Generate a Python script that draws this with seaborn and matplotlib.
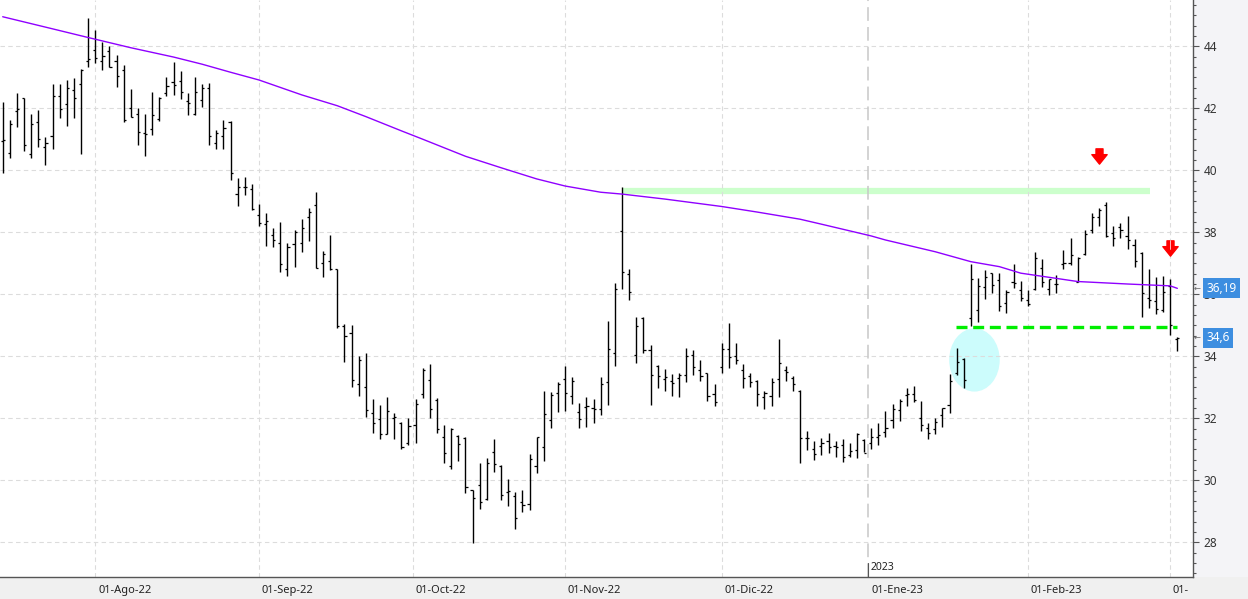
import numpy as np
import pandas as pd
import seaborn as sns
import matplotlib.pyplot as plt
from matplotlib import transforms
from matplotlib.patches import Ellipse, Rectangle
from matplotlib.path import Path
from matplotlib.transforms import Bbox, TransformedBbox

# Daily bars 13-Jul-2022 .. 02-Mar-2023 (market closed 26-Dec)
dates = pd.bdate_range('2022-07-13', '2023-03-02')
dates = dates[dates != pd.Timestamp('2022-12-26')]

opens = [40.93, 40.55, 41.90, 42.33, 40.52, 41.55, 40.75, 41.10, 42.39, 42.13,
         42.58, 42.77, 43.52, 43.87, 43.53, 43.84, 43.53, 43.23, 42.00, 41.81,
         41.19, 41.33, 41.64, 42.48, 42.85, 42.88, 42.24, 41.81, 42.27, 42.64,
         40.87, 41.11, 41.56, 39.23, 39.46, 39.40, 38.56, 38.27, 37.91, 37.66,
         36.81, 37.62, 37.66, 38.49, 38.88, 37.01, 37.06, 36.82, 34.96, 34.74,
         33.10, 33.00, 32.16, 31.98, 31.49, 32.00, 31.86, 31.21, 31.78, 32.77,
         33.24, 32.59, 31.39, 30.47, 31.44, 31.35, 29.69, 29.85, 29.39, 30.90,
         30.47, 29.61, 29.49, 29.29, 29.24, 30.46, 31.07, 31.95, 32.82, 33.26,
         32.71, 32.20, 32.36, 32.32, 32.29, 33.16, 34.10, 38.03, 36.64, 34.03,
         35.22, 34.19, 33.70, 33.26, 33.20, 33.29, 33.39, 34.04, 33.55, 33.46,
         32.77, 33.64, 34.22, 34.00, 33.55, 33.35, 33.19, 32.68, 32.71, 33.26,
         33.55, 33.29, 32.89, 31.35, 31.00, 31.09, 31.27, 31.10, 31.14, 30.82,
         30.97, 31.31, 31.20, 31.39, 31.55, 31.95, 32.27, 32.75, 32.77, 32.00,
         31.67, 31.66, 32.11, 32.43, 33.46, 33.90, 35.23, 35.49, 36.23, 36.68,
         36.46, 35.73, 36.39, 36.14, 35.82, 36.17, 36.84, 36.16, 36.33, 36.97,
         37.00, 36.41, 37.30, 38.07, 38.50, 38.88, 37.97, 38.18, 37.89, 37.60,
         37.34, 35.87, 35.79, 35.49, 36.25, 34.56]
highs = [42.19, 41.62, 42.49, 42.33, 41.82, 41.95, 41.07, 42.78, 42.78, 42.91,
         42.97, 43.27, 44.91, 44.53, 44.12, 44.00, 43.73, 43.40, 42.62, 42.00,
         41.82, 42.53, 42.35, 43.01, 43.49, 43.20, 42.49, 43.01, 42.77, 42.81,
         41.30, 41.62, 41.60, 39.75, 39.78, 39.56, 38.91, 38.62, 38.13, 38.32,
         37.66, 38.06, 38.43, 38.78, 39.30, 37.40, 37.91, 36.82, 35.04, 35.00,
         34.01, 34.11, 32.62, 32.43, 32.69, 32.16, 31.89, 32.01, 32.62, 33.61,
         33.76, 32.64, 31.78, 31.69, 31.46, 31.39, 29.69, 30.56, 30.73, 31.33,
         30.49, 30.03, 29.62, 29.69, 30.85, 31.40, 32.88, 32.85, 33.17, 33.68,
         33.33, 32.48, 32.68, 32.62, 33.33, 35.14, 36.35, 39.45, 36.82, 35.28,
         35.25, 34.36, 33.71, 33.58, 33.43, 33.46, 34.26, 34.20, 33.88, 33.46,
         33.11, 34.43, 35.07, 34.43, 33.75, 33.46, 33.22, 32.88, 33.30, 34.56,
         33.69, 33.36, 32.91, 31.60, 31.27, 31.35, 31.53, 31.27, 31.32, 31.19,
         31.51, 31.33, 31.67, 31.85, 32.23, 32.46, 32.61, 32.98, 33.04, 32.56,
         31.84, 32.00, 32.33, 33.43, 34.28, 33.95, 36.98, 36.53, 36.77, 36.69,
         36.67, 36.14, 36.98, 36.43, 36.14, 37.35, 37.14, 36.50, 36.62, 37.43,
         37.81, 37.20, 38.07, 38.61, 38.79, 38.99, 38.19, 38.31, 38.52, 37.78,
         37.36, 36.82, 36.56, 36.59, 36.48, 34.63]
lows = [39.92, 40.38, 41.38, 40.63, 40.38, 40.76, 40.18, 40.70, 41.67, 41.44,
        41.67, 40.53, 43.34, 43.47, 43.24, 43.32, 42.70, 41.57, 41.73, 40.80,
        40.47, 41.14, 41.60, 42.40, 42.44, 42.30, 41.79, 41.79, 42.05, 40.80,
        40.70, 40.67, 39.70, 38.86, 39.21, 38.73, 38.21, 37.54, 37.52, 36.73,
        36.60, 36.89, 37.37, 37.73, 36.86, 36.54, 36.78, 34.90, 33.80, 33.02,
        32.73, 32.05, 31.52, 31.34, 31.48, 31.34, 31.00, 31.14, 31.20, 32.65,
        32.01, 31.54, 30.56, 30.36, 30.62, 29.60, 27.99, 29.07, 29.36, 30.27,
        29.36, 29.18, 28.43, 28.99, 29.04, 30.24, 30.62, 31.67, 32.21, 32.25,
        32.47, 31.67, 31.73, 31.86, 32.12, 32.43, 33.67, 36.18, 35.83, 33.79,
        34.10, 32.44, 32.99, 32.89, 32.73, 32.70, 33.18, 33.38, 33.21, 32.55,
        32.41, 33.47, 33.63, 33.76, 32.99, 33.02, 32.41, 32.31, 32.38, 32.70,
        33.21, 32.89, 30.55, 30.98, 30.66, 30.83, 30.87, 30.76, 30.60, 30.76,
        30.73, 30.90, 31.02, 31.13, 31.41, 31.69, 31.92, 32.41, 32.52, 31.60,
        31.32, 31.48, 31.73, 32.18, 33.38, 32.96, 34.98, 35.11, 35.86, 36.03,
        35.47, 35.41, 36.21, 35.79, 35.63, 36.15, 36.22, 35.96, 36.05, 36.83,
        36.95, 36.40, 37.26, 37.96, 38.21, 37.84, 37.54, 37.81, 37.47, 36.89,
        35.25, 35.56, 35.35, 35.44, 34.67, 34.18]
closes = [40.98, 41.48, 41.97, 40.81, 41.48, 41.01, 40.87, 42.39, 41.97, 42.64,
          42.32, 43.24, 43.58, 43.61, 43.68, 43.32, 43.03, 41.62, 41.73, 41.23,
          41.16, 41.77, 42.32, 42.71, 42.74, 42.53, 42.16, 42.53, 42.64, 41.10,
          41.19, 41.35, 39.90, 39.46, 39.46, 38.76, 38.31, 38.37, 37.74, 36.97,
          37.52, 38.00, 38.13, 38.64, 36.86, 37.29, 36.81, 34.96, 34.66, 33.24,
          33.88, 32.27, 31.84, 31.49, 32.24, 32.03, 31.08, 31.76, 32.45, 33.55,
          32.29, 31.66, 30.87, 31.66, 31.16, 29.78, 29.42, 29.29, 30.55, 30.51,
          29.53, 29.65, 28.77, 29.20, 30.68, 31.39, 32.13, 32.74, 33.11, 32.82,
          33.19, 31.97, 32.41, 32.29, 33.11, 34.22, 36.16, 36.71, 36.06, 34.98,
          34.19, 33.39, 33.35, 33.32, 33.14, 33.39, 34.00, 33.64, 33.35, 32.71,
          32.52, 34.22, 33.97, 33.87, 33.29, 33.16, 32.77, 32.81, 33.16, 33.77,
          33.48, 33.10, 31.35, 31.35, 30.84, 31.21, 31.08, 31.08, 30.74, 30.94,
          31.48, 30.87, 31.39, 31.46, 31.68, 32.29, 32.56, 32.77, 32.58, 31.78,
          31.52, 31.89, 32.32, 33.19, 33.81, 33.24, 36.48, 36.26, 36.56, 36.30,
          35.63, 36.08, 36.35, 35.87, 35.68, 37.17, 36.40, 36.48, 36.32, 37.02,
          37.27, 37.18, 37.93, 38.48, 38.72, 37.89, 37.82, 38.07, 37.75, 37.07,
          36.03, 35.83, 35.53, 36.08, 35.00, 34.60]

# long moving average, read at a few bars
ma_idx = [0, 7, 12, 18, 24, 28, 32, 36, 42, 47, 51, 56, 59, 65, 70, 75, 79, 84,
          87, 93, 101, 106, 112, 115, 122, 124, 131, 136, 140, 143, 151, 158, 164, 165]
ma_vals = [44.95, 44.56, 44.28, 43.95, 43.65, 43.42, 43.16, 42.91, 42.43, 42.08,
           41.73, 41.27, 41.00, 40.45, 40.08, 39.72, 39.49, 39.29, 39.23, 39.07,
           38.83, 38.65, 38.42, 38.26, 37.88, 37.75, 37.37, 37.05, 36.89, 36.68,
           36.41, 36.33, 36.27, 36.19]

resistance = 39.33
support = 34.94
last_ma = 36.19
last_close = 34.6
meses = ['Ago', 'Sep', 'Oct', 'Nov', 'Dic', 'Ene', 'Feb', 'Mar']
month_starts = ['2022-08-01', '2022-09-01', '2022-10-01', '2022-11-01',
                '2022-12-01', '2023-01-01', '2023-02-01', '2023-03-01']

sns.set_style('white')
plt.rcParams['font.family'] = ['Noto Sans', 'DejaVu Sans']

W, H = 1248, 599
fig = plt.figure(figsize=(W / 100, H / 100), dpi=100)
fig.patch.set_facecolor('#f0f0f0')
fig.patches.append(Rectangle((1193 / W, 22 / H), 55 / W, 577 / H, transform=fig.transFigure,
                             facecolor='#f4f4f7', edgecolor='none', zorder=-1))
ax = fig.add_axes([0, 22 / H, 1193 / W, 577 / H])
ax.set_facecolor('white')

idx = np.arange(len(dates))

# month ticks
tick_pos, tick_lbl = [], []
for m, s in zip(meses, month_starts):
    ts = pd.Timestamp(s)
    k = dates.searchsorted(ts)
    tick_pos.append(k if dates[k] == ts else k - 0.4)
    tick_lbl.append(f"01-{m}-{ts.strftime('%y')}")

# grid
for v in range(28, 45, 2):
    ax.axhline(v, color='#dcdcdc', lw=0.8, ls=(0, (4, 3)), zorder=1.5)
for p, m in zip(tick_pos, meses):
    if m == 'Ene':
        ax.axvline(p, color='#c8c8c8', lw=1.1, ls=(0, (9, 4)), zorder=1.5)
    else:
        ax.axvline(p, color='#dcdcdc', lw=0.8, ls=(0, (4, 3)), zorder=1.5)

# annotations behind bars
ax.hlines(resistance, 87, 161.1, color='#ccffcc', lw=4.5, zorder=1)
ax.add_patch(Ellipse((136.5, 33.88), 7.1, 2.04, facecolor='#ccfcfc', edgecolor='none', zorder=1))

# OHLC bars
ax.vlines(idx, lows, highs, color='black', lw=1.0, zorder=3)
ax.hlines(opens, idx - 0.3, idx, color='black', lw=0.9, zorder=3)
ax.hlines(closes, idx, idx + 0.3, color='black', lw=0.9, zorder=3)

# moving average
sns.lineplot(x=ma_idx, y=ma_vals, ax=ax, color='#8f00ff', lw=1.0, zorder=4)

# support line
ax.hlines(support, 133.9, 165.0, color='#00ee00', lw=2.4, ls=(0, (3.3, 1.7)), zorder=4)

# red arrows
arrow_path = Path([(-0.23, 0.5), (0.23, 0.5), (0.23, 0.12), (0.5, 0.12), (0, -0.5),
                   (-0.5, 0.12), (-0.23, 0.12), (-0.23, 0.5)], closed=True)
arrow_bars = [154, 164]
arrow_levels = [40.47, 37.50]
ax.plot(arrow_bars, arrow_levels, ls='none', marker=arrow_path, markersize=11,
        color='#ff0000', mec='#ff0000', zorder=5)
ax.plot([164, 164], [37.75, 37.45], color='white', lw=0.5, zorder=6)

ax.set_xlim(-0.38, 167.2)
ax.set_ylim(26.88, 45.49)

# axes styling
for s in ['left', 'top']:
    ax.spines[s].set_visible(False)
for s in ['right', 'bottom']:
    ax.spines[s].set_color('#555555')
    ax.spines[s].set_linewidth(1.0)

ax.yaxis.tick_right()
ax.set_yticks(range(28, 45, 2))
ax.yaxis.set_minor_locator(plt.MultipleLocator(1 / 3))
ax.tick_params(axis='y', which='major', direction='out', length=4.5, width=0.8,
               color='#555555', labelsize=8.5, labelcolor='#333333', pad=3)
ax.tick_params(axis='y', which='minor', direction='out', length=2.5, width=0.8, color='#555555')

ax.set_xticks(tick_pos, tick_lbl)
ax.tick_params(axis='x', direction='out', length=6.5, width=0.8, color='#555555',
               labelsize=8, labelcolor='#222222', pad=-1)
offset = transforms.ScaledTranslation(2 / 72, 0, fig.dpi_scale_trans)
clip = TransformedBbox(Bbox([[0, 0], [1189 / W, 1]]), fig.transFigure)
for lbl in ax.get_xticklabels():
    lbl.set_ha('left')
    lbl.set_transform(lbl.get_transform() + offset)
    lbl.set_clip_box(clip)
    lbl.set_clip_on(True)

# year marker
bx = transforms.blended_transform_factory(ax.transData, ax.transAxes)
jan = tick_pos[meses.index('Ene')]
ax.plot([jan, jan], [0, 0.025], transform=bx, color='#555555', lw=0.8, clip_on=False)
ax.text(jan + 0.35, 0.016, '2023', transform=bx, fontsize=7.5, color='#222222', va='center', ha='left')

# last value boxes on the price scale
by = transforms.blended_transform_factory(ax.transAxes, ax.transData)
for val in [last_ma, last_close]:
    ax.text(1.0111, val, f"{val:g}".replace('.', ','), transform=by, ha='left', va='center',
            fontsize=8.5, color='white', clip_on=False, zorder=10,
            bbox=dict(boxstyle='square,pad=0.3', fc='#3d8ee0', ec='none'))
    ax.text(1.0003, val, '←', transform=by, ha='left', va='center', fontsize=6,
            color='#666666', family='DejaVu Sans', clip_on=False, zorder=10)

fig.savefig('out.png', dpi=100, facecolor=fig.get_facecolor())
